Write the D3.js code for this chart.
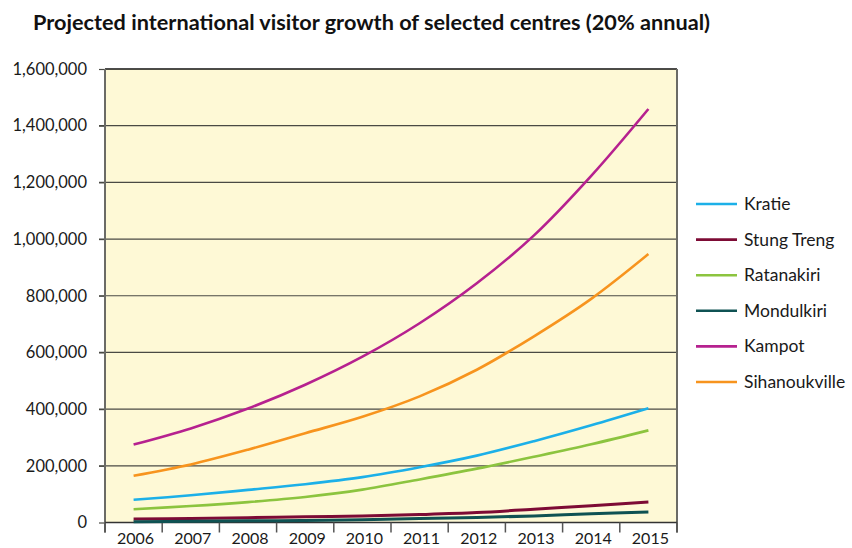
<!DOCTYPE html>
<html lang="en">
<head>
<meta charset="UTF-8">
<title>Projected international visitor growth</title>
<style>
  body { margin: 0; background: #fff; }
  svg { display: block; font-family: Lato, "Open Sans", sans-serif; }
</style>
<script src="https://cdn.jsdelivr.net/npm/d3@7"></script>
</head>
<body>
<svg id="chart" width="852" height="548"></svg>
<script>
  // years along the x axis
  const years = ["2006", "2007", "2008", "2009", "2010", "2011", "2012", "2013", "2014", "2015"];
  const yTicks = [0, 200000, 400000, 600000, 800000, 1000000, 1200000, 1400000, 1600000];

  // visitor numbers
  const kratie      = [80000, 96000, 115000, 135000, 160000, 195000, 236000, 287000, 343000, 403000];
  const stungTreng  = [12000, 14000, 17000, 20000, 23000, 28000, 35000, 47000, 59000, 72000];
  const ratanakiri  = [47000, 58000, 72000, 90000, 116000, 152000, 190000, 232000, 276000, 325000];
  const mondulkiri  = [3000, 4000, 6000, 7000, 10000, 14000, 18000, 23000, 31000, 37000];
  const kampot      = [275000, 332000, 402000, 486000, 585000, 703000, 844000, 1013000, 1223000, 1459000];
  const sihanouk    = [165000, 205000, 257000, 315000, 373000, 445000, 539000, 657000, 789000, 947000];

  const seriesNames = ["Kratie", "Stung Treng", "Ratanakiri", "Mondulkiri", "Kampot", "Sihanoukville"];
  const seriesValues = [kratie, stungTreng, ratanakiri, mondulkiri, kampot, sihanouk];
  const colors = ["#1cb0e8", "#7d0b35", "#8cc43f", "#0f5253", "#b6218f", "#f7941e"];

  const mLeft = 105, mRight = 677, mTop = 69, mBottom = 522.5;
  const svg = d3.select("#chart");

  svg.append("text")
    .attr("x", 33).attr("y", 30)
    .attr("font-size", 20).attr("font-weight", "bold")
    .attr("textLength", 677).attr("lengthAdjust", "spacingAndGlyphs")
    .attr("fill", "#111")
    .text("Projected international visitor growth of selected centres (20% annual)");

  const x = d3.scaleBand().domain(years).range([mLeft, mRight]).padding(0);
  const y = d3.scaleLinear().domain([0, 1600000]).range([mBottom, mTop]);

  // plot background
  svg.append("rect")
    .attr("x", mLeft).attr("y", mTop)
    .attr("width", mRight - mLeft).attr("height", mBottom - mTop)
    .attr("fill", "#fef9d6");

  // gridlines
  svg.append("g").selectAll("line")
    .data(yTicks.filter(d => d > 0 && d < 1600000))
    .join("line")
    .attr("x1", mLeft - 6).attr("x2", mRight)
    .attr("y1", d => y(d)).attr("y2", d => y(d))
    .attr("stroke", "#4a4a44").attr("stroke-width", 1.2);

  // y axis labels
  const yAxis = d3.axisLeft(y).tickValues(yTicks).tickSize(6).tickPadding(12)
    .tickFormat(d3.format(","));
  svg.append("g")
    .attr("transform", `translate(${mLeft},0)`)
    .call(yAxis)
    .call(g => g.select(".domain").remove())
    .call(g => g.selectAll("line").attr("stroke", "#4a4a44").attr("stroke-width", 1.2))
    .call(g => g.selectAll("text").attr("font-size", 16.5).attr("fill", "#1a1a1a")
      .attr("font-family", "Lato, sans-serif"));

  // frame
  svg.append("line").attr("x1", mLeft).attr("x2", mRight).attr("y1", mTop).attr("y2", mTop)
    .attr("stroke", "#111").attr("stroke-width", 1.5);
  svg.append("line").attr("x1", mRight).attr("x2", mRight).attr("y1", mTop).attr("y2", mBottom + 10)
    .attr("stroke", "#6b6b66").attr("stroke-width", 2);
  svg.append("line").attr("x1", mLeft).attr("x2", mLeft).attr("y1", mTop).attr("y2", mBottom + 10)
    .attr("stroke", "#6b6b66").attr("stroke-width", 2);
  svg.append("line").attr("x1", mLeft).attr("x2", mRight).attr("y1", mBottom).attr("y2", mBottom)
    .attr("stroke", "#333").attr("stroke-width", 1.5);

  // x ticks at band edges
  const edges = years.map(d => x(d)).concat([mRight]);
  svg.append("g").selectAll("line")
    .data(edges)
    .join("line")
    .attr("x1", d => d).attr("x2", d => d)
    .attr("y1", mBottom).attr("y2", mBottom + 10)
    .attr("stroke", "#555").attr("stroke-width", 1.5);

  svg.append("g").selectAll("text")
    .data(years)
    .join("text")
    .attr("x", d => x(d) + x.bandwidth() / 2 + 2)
    .attr("y", 544)
    .attr("text-anchor", "middle")
    .attr("font-size", 16)
    .attr("fill", "#1a1a1a")
    .text(d => d);

  // lines
  const line = d3.line()
    .x((d, i) => x(years[i]) + x.bandwidth() / 2)
    .y(d => y(d))
    .curve(d3.curveCatmullRom.alpha(0.5));

  svg.append("g").selectAll("path")
    .data(seriesValues)
    .join("path")
    .attr("d", d => line(d))
    .attr("fill", "none")
    .attr("stroke", (d, i) => colors[i])
    .attr("stroke-width", (d, i) => i === 1 || i === 3 ? 3 : 2.6);

  // legend
  const legend = svg.append("g").selectAll("g")
    .data(seriesNames)
    .join("g")
    .attr("transform", (d, i) => `translate(696,${204 + i * 35.6})`);
  legend.append("line")
    .attr("x1", 0).attr("x2", 41)
    .attr("stroke", (d, i) => colors[i]).attr("stroke-width", 2.6);
  legend.append("text")
    .attr("x", 48).attr("y", 6)
    .attr("font-size", 17.5).attr("fill", "#1a1a1a")
    .text(d => d);
</script>
</body>
</html>
